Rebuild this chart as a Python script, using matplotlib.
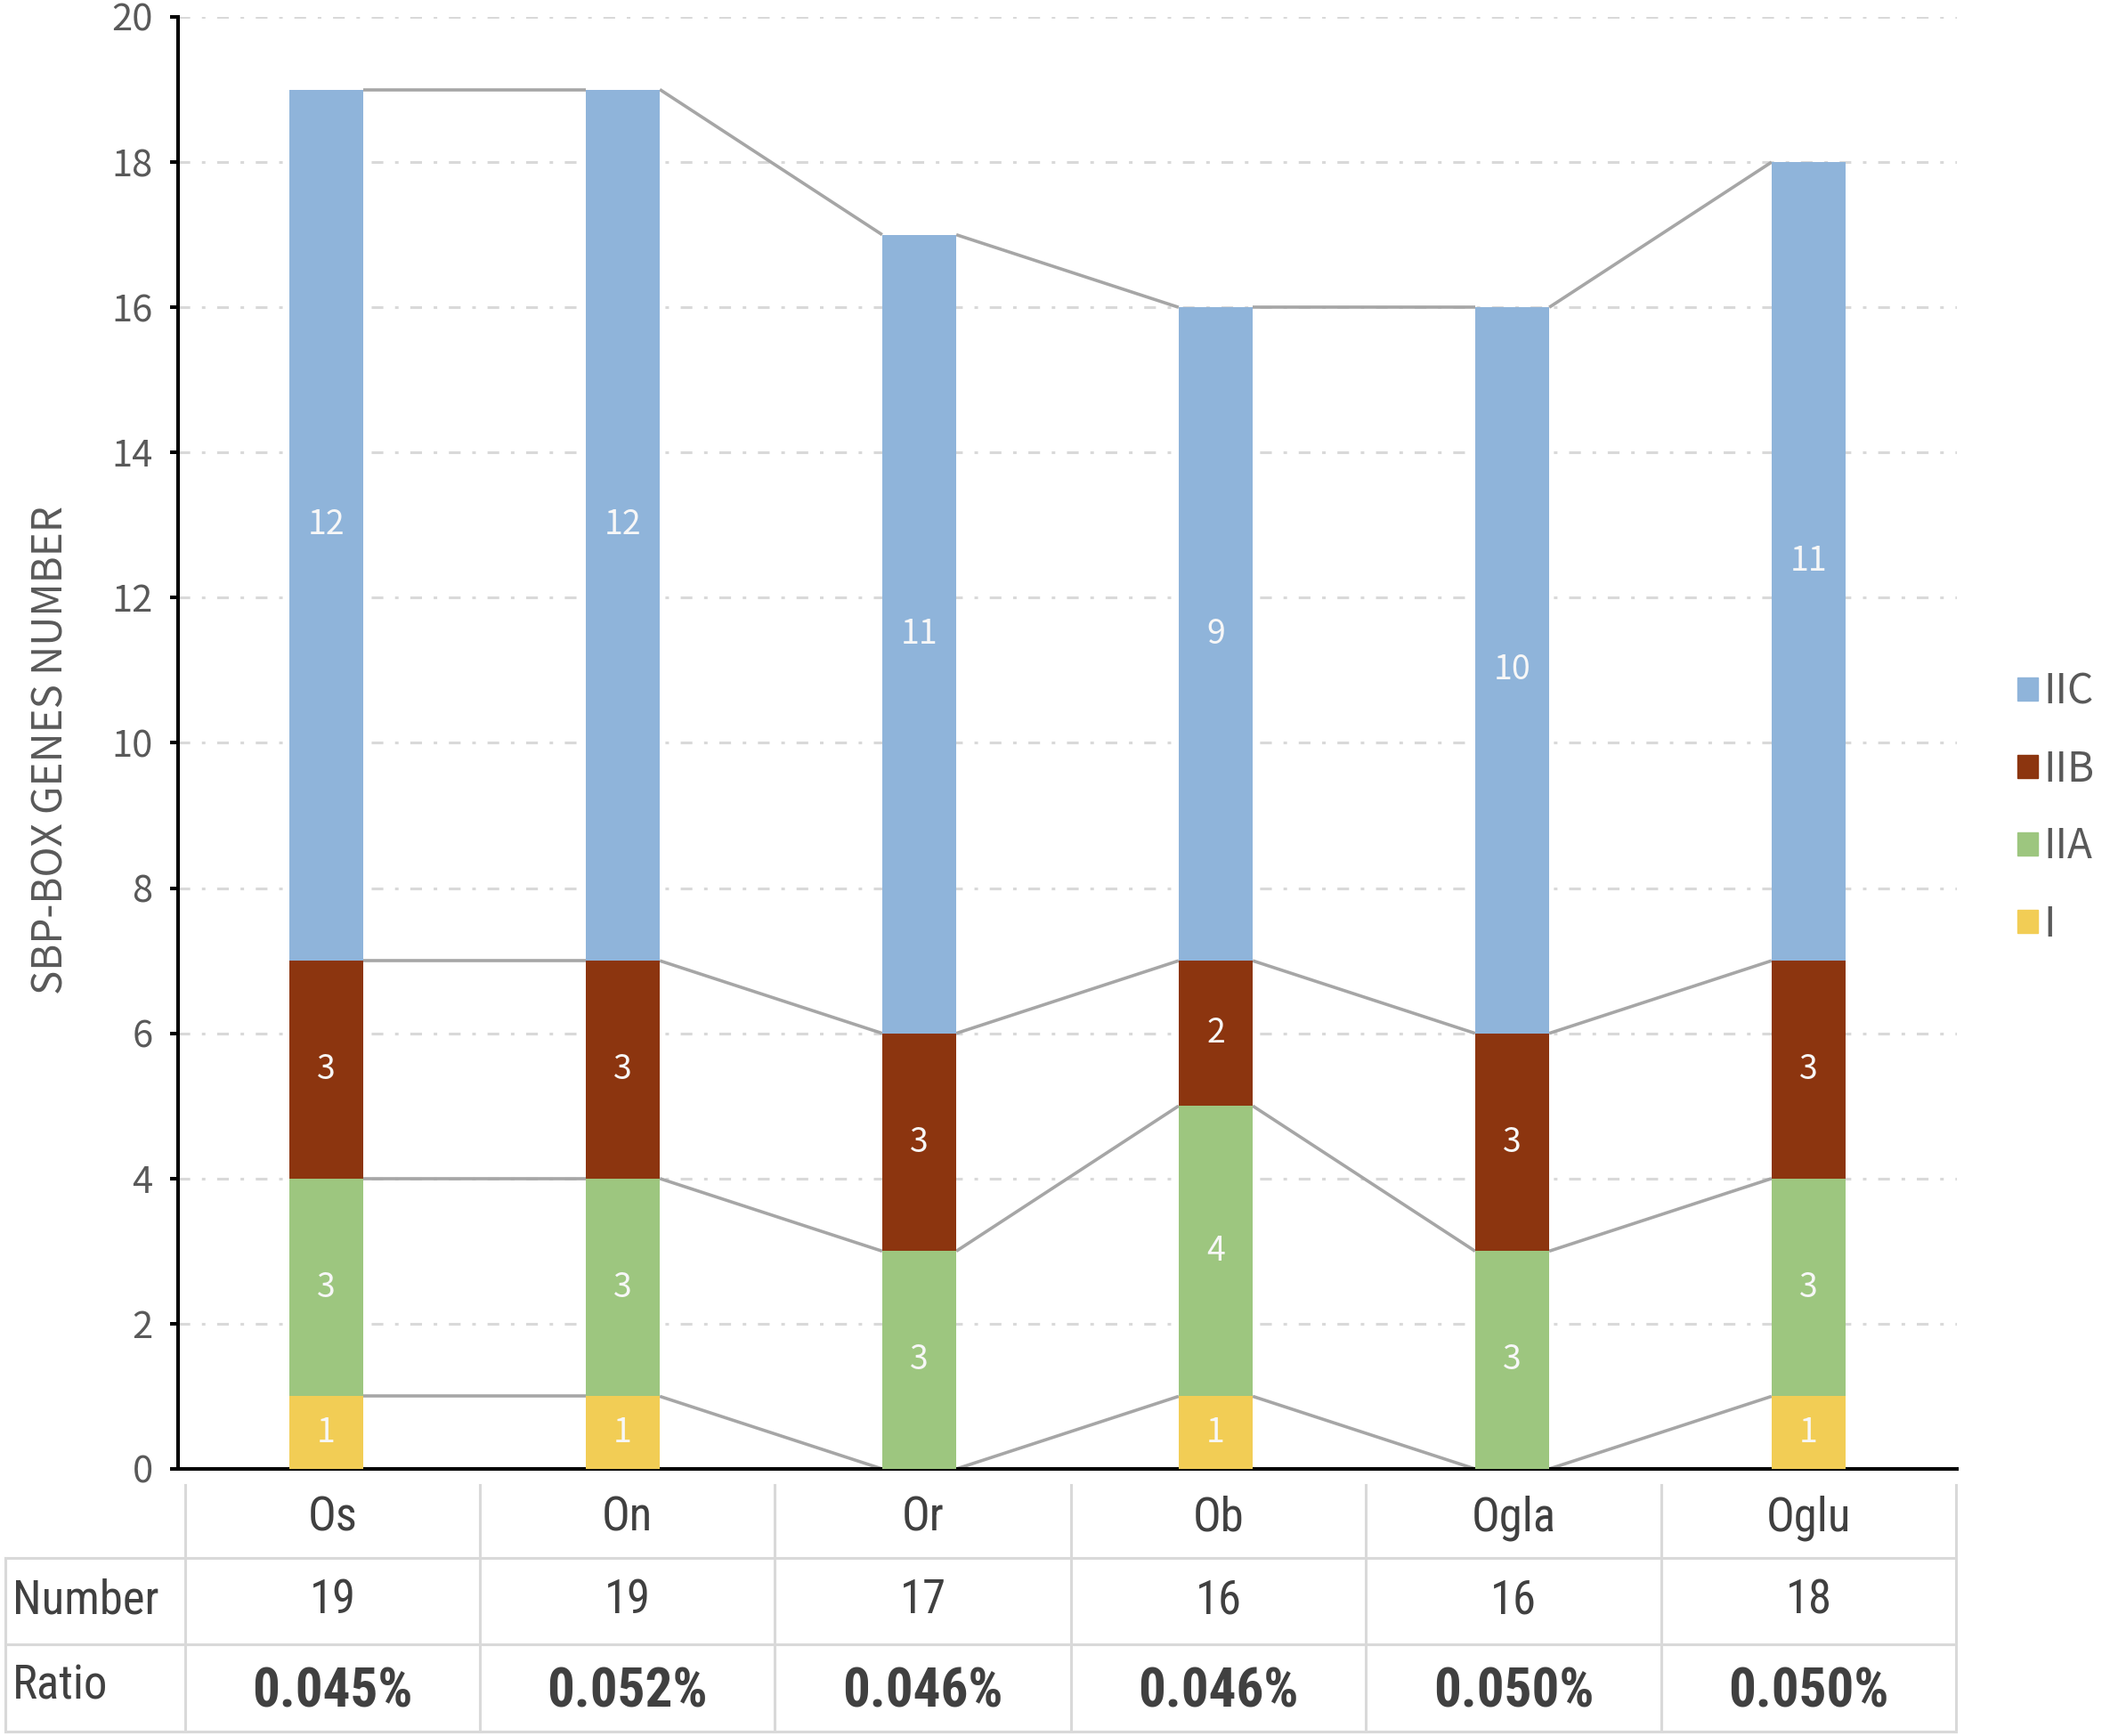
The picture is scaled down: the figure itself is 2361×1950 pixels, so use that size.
import matplotlib
matplotlib.use("Agg")
import matplotlib.pyplot as plt
from matplotlib import font_manager as fm
from matplotlib.patches import Patch
import numpy as np

# donnees
species = ["Os", "On", "Or", "Ob", "Ogla", "Oglu"]
group_names = ["I", "IIA", "IIB", "IIC"]
g_I   = [1, 1, 0, 1, 0, 1]
g_IIA = [3, 3, 3, 4, 3, 3]
g_IIB = [3, 3, 3, 2, 3, 3]
g_IIC = [12, 12, 11, 9, 10, 11]
totals = [19, 19, 17, 16, 16, 18]
ratios = ["0.045%", "0.052%", "0.046%", "0.046%", "0.050%", "0.050%"]
y_ticks = list(range(0, 21, 2))

colors = ["#F2CD55", "#9DC67F", "#8C350F", "#8FB4DA"]


def has_font(name):
    try:
        fm.findfont(fm.FontProperties(family=name), fallback_to_default=False)
        return True
    except ValueError:
        return False


W, H = 2361, 1950
LIGHT = ["Noto Sans CJK SC", "DejaVu Sans"]
# police etroite pour le tableau si disponible
narrow = None
for cand in ["Roboto Condensed", "Liberation Sans Narrow", "Open Sans Condensed"]:
    if has_font(cand):
        narrow = cand
        break
if narrow:
    NARROW = [narrow] + LIGHT
    k = 1.0
else:
    NARROW = LIGHT
    k = 0.86
plt.rcParams["font.family"] = LIGHT

fig = plt.figure(figsize=(W / 100, H / 100), dpi=100)
ax = fig.add_axes([200 / W, 1 - 1650 / H, 1998 / W, 1631 / H])

x = np.arange(len(species))
bw = 0.25
series = [g_I, g_IIA, g_IIB, g_IIC]
bottom = np.zeros(len(species))
levels = []
for vals, col in zip(series, colors):
    vals = np.array(vals)
    ax.bar(x, vals, bw, bottom=bottom, color=col, zorder=3)
    for xi, v, b in zip(x, vals, bottom):
        if v > 0:
            ax.text(xi, b + v / 2, str(v), ha="center", va="center",
                    fontsize=27, color="#F7F7F7", zorder=4)
    bottom = bottom + vals
    levels.append(bottom.copy())

# lignes de liaison entre les barres
for lev in levels:
    for i in range(len(species) - 1):
        ax.plot([x[i] + bw / 2, x[i + 1] - bw / 2], [lev[i], lev[i + 1]],
                color="#A6A6A6", lw=2.6, zorder=2, solid_capstyle="butt")

ax.set_xlim(-0.5, len(species) - 0.5)
ax.set_ylim(0, 20)
ax.set_yticks(y_ticks)
ax.set_xticks([])
for yv in y_ticks[1:]:
    ax.axhline(yv, color="#D9D9D9", lw=2.2, zorder=1,
               dashes=(4.3, 4.3, 1.3, 4.3))
for s in ["top", "right"]:
    ax.spines[s].set_visible(False)
ax.spines["left"].set_linewidth(2.9)
ax.spines["bottom"].set_linewidth(2.9)
ax.tick_params(axis="y", length=6.5, width=2.9, labelsize=30,
               labelcolor="#595959", pad=14)

fig.text(57 / W, 1 - 843 / H, "SBP-BOX GENES NUMBER", rotation=90,
         ha="center", va="center", fontsize=33, color="#595959")

# legende
handles = [Patch(color=c) for c in colors[::-1]]
fig.legend(handles, group_names[::-1], loc="upper left",
           bbox_to_anchor=(2266 / W, 1 - 753 / H), frameon=False,
           fontsize=33, handlelength=0.5, handleheight=0.5,
           handletextpad=0.15, labelspacing=0.84, borderpad=0,
           borderaxespad=0, labelcolor="#595959")

# tableau sous le graphique
ov = fig.add_axes([0, 0, 1, 1])
ov.set_xlim(0, W)
ov.set_ylim(H, 0)
ov.axis("off")
edges = [208, 539, 870, 1203, 1534, 1866, 2197]
rows_y = [1668, 1750, 1847, 1945]
gc = "#D9D9D9"
for e in edges:
    ov.plot([e, e], [rows_y[0], rows_y[3]], color=gc, lw=2.2)
ov.plot([6, 6], [rows_y[1], rows_y[3]], color=gc, lw=2.2)
for r in rows_y[1:]:
    ov.plot([6, edges[-1]], [r, r], color=gc, lw=2.2)
centers = [(a + b) / 2 for a, b in zip(edges[:-1], edges[1:])]
for cx, sp, n, r in zip(centers, species, totals, ratios):
    ov.text(cx, 1705, sp, ha="center", va="center", fontsize=38 * k,
            color="#404040", family=NARROW)
    ov.text(cx, 1798, str(n), ha="center", va="center", fontsize=38 * k,
            color="#404040", family=NARROW)
    ov.text(cx, 1901, r, ha="center", va="center", fontsize=44 * k * (0.9 if k < 1 else 1),
            color="#404040", family=NARROW, fontweight="bold")
ov.text(14, 1798, "Number", ha="left", va="center", fontsize=38 * k,
        color="#404040", family=NARROW)
ov.text(14, 1894, "Ratio", ha="left", va="center", fontsize=38 * k,
        color="#404040", family=NARROW)

fig.savefig("out.png", dpi=100)
